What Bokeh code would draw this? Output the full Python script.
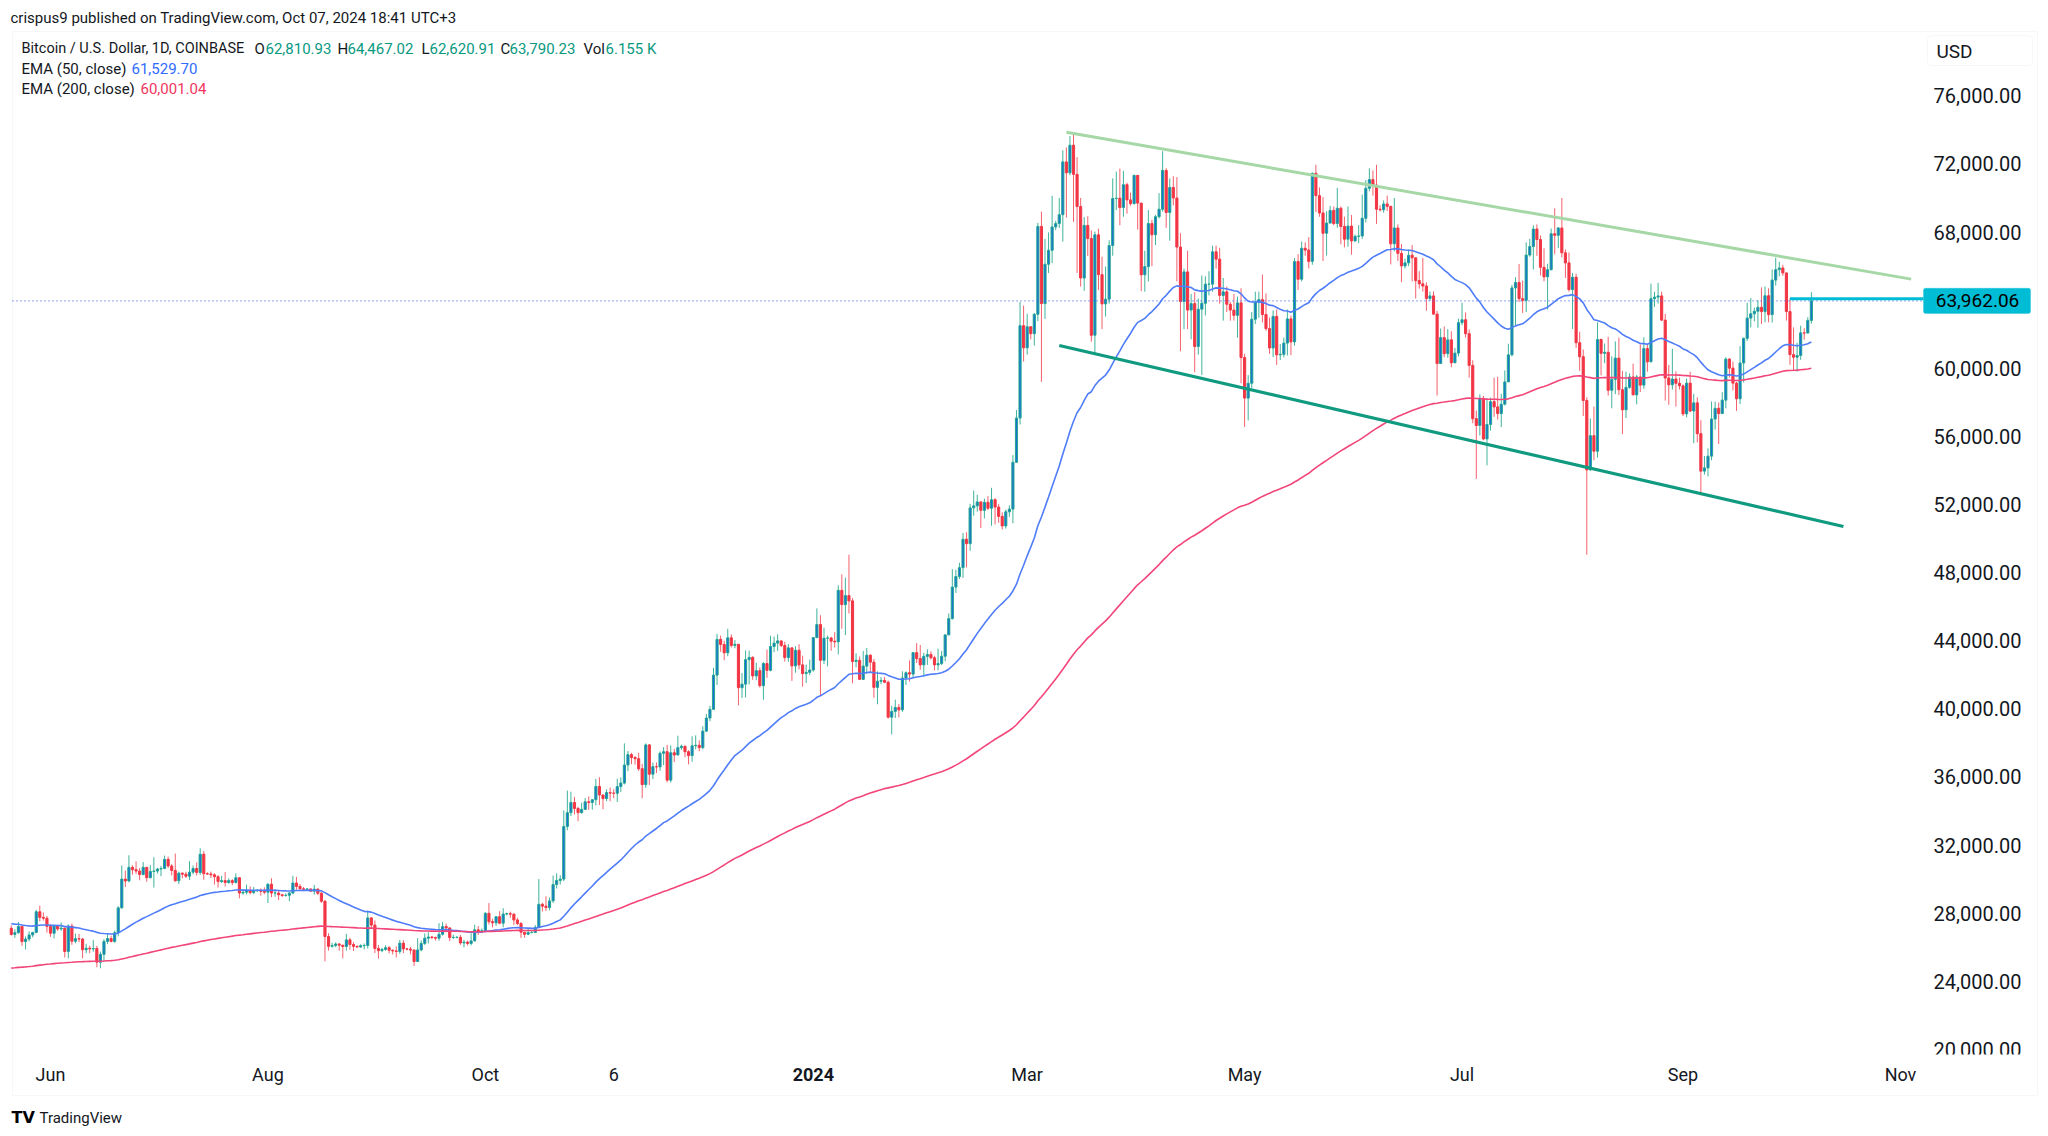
import numpy as np
import pandas as pd
from bokeh.plotting import figure
from bokeh.models import (ColumnDataSource, FixedTicker, NumeralTickFormatter, Label,
                          BoxAnnotation, Range1d)
from bokeh.embed import file_html
from bokeh.resources import INLINE

# ---------------- data (thousands of USD): (close, high, low) per day ----------------
start_date = "2023-05-21"
first_open = 27.11
m2023_05 = [(26.75,27.27,26.68),(26.85,27.05,26.55),(27.22,27.48,26.80),(26.33,27.22,26.08),(26.48,26.63,25.87),(26.72,26.93,26.34),(26.87,26.90,26.58),(28.08,28.19,26.82),(27.75,28.44,27.52),(27.70,28.04,27.56),(27.22,27.83,26.86)]
m2023_06 = [(26.82,27.35,26.61),(27.25,27.30,26.52),(27.07,27.32,26.96),(27.12,27.45,26.97),(25.75,27.13,25.40),(27.24,27.34,25.35),(26.35,27.39,26.14),(26.50,26.80,26.23),(26.48,26.78,26.29),(25.85,26.53,25.35),
            (25.94,26.20,25.64),(25.90,26.08,25.65),(25.92,26.43,25.73),(25.12,26.08,24.82),(25.58,25.74,24.76),(26.34,26.47,25.17),(26.51,26.77,26.18),(26.34,26.68,26.28),(26.85,26.98,26.26),(28.31,28.40,26.64),
            (30.00,30.80,28.27),(29.89,30.50,29.54),(30.69,31.40,29.81),(30.55,30.81,30.26),(30.47,31.04,30.30),(30.27,30.65,29.93),(30.69,31.00,30.22),(30.08,30.70,29.85),(30.45,30.82,30.05),(30.47,31.28,29.50)]
m2023_07 = [(30.59,30.66,30.32),(30.62,30.78,30.17),(31.16,31.38,30.58),(30.77,31.32,30.64),(30.51,30.88,30.21),(29.90,31.50,29.85),(30.35,30.44,29.71),(30.29,30.38,30.05),(30.17,30.43,30.07),(30.41,31.05,29.95),
            (30.62,30.80,30.28),(30.39,30.98,30.21),(31.46,31.81,30.25),(30.32,31.64,29.96),(30.30,30.40,30.25),(30.25,30.44,30.07),(30.14,30.34,29.68),(29.86,30.23,29.50),(29.91,30.19,29.77),(29.80,30.42,29.57),
            (29.91,30.05,29.72),(29.80,29.99,29.64),(30.08,30.34,29.74),(29.18,30.10,28.87),(29.23,29.38,29.08),(29.35,29.68,29.10),(29.21,29.57,29.10),(29.31,29.53,29.12),(29.35,29.40,29.26),(29.28,29.45,29.03),
            (29.23,29.52,29.11)]
m2023_08 = [(29.70,29.75,28.59),(29.18,30.05,28.94),(29.18,29.41,28.96),(29.08,29.31,28.77),(29.04,29.11,28.95),(29.05,29.16,28.97),(29.18,29.24,28.70),(29.77,30.19,29.13),(29.57,30.13,29.37),(29.43,29.71,29.33),
            (29.40,29.54,29.29),(29.42,29.47,29.35),(29.29,29.45,29.26),(29.41,29.66,29.09),(29.17,29.46,29.06),(28.70,29.23,28.60),(26.63,28.77,25.17),(26.05,26.82,25.80),(26.10,26.26,25.98),(26.19,26.28,26.00),
            (26.12,26.24,25.80),(26.04,26.13,25.35),(26.43,26.79,25.80),(26.16,26.55,25.85),(26.05,26.30,25.78),(26.01,26.10,25.97),(26.09,26.17,25.96),(26.10,26.22,25.87),(27.72,28.14,25.92),(27.30,27.76,27.06),
            (25.93,27.57,25.66)]
m2023_09 = [(25.80,26.13,25.33),(25.87,25.97,25.71),(25.97,26.11,25.79),(25.82,26.06,25.64),(25.78,25.87,25.57),(25.75,26.05,25.40),(26.24,26.43,25.61),(25.90,26.41,25.65),(25.89,25.94,25.81),(25.83,26.02,25.58),
            (25.16,25.89,24.90),(25.84,26.53,25.13),(26.22,26.40,25.76),(26.53,26.81,26.13),(26.60,26.88,26.22),(26.57,26.66,26.47),(26.53,26.62,26.39),(26.76,27.41,26.38),(27.21,27.49,26.68),(27.13,27.39,26.88),
            (26.57,27.16,26.36),(26.58,26.73,26.48),(26.58,26.64,26.52),(26.25,26.72,26.14),(26.30,26.43,25.99),(26.22,26.39,26.09),(26.37,26.82,26.11),(27.02,27.32,26.34),(26.91,27.24,26.72),(26.97,27.10,26.88)]
m2023_10 = [(27.99,28.06,26.95),(27.50,28.59,27.33),(27.43,27.67,27.16),(27.79,27.83,27.25),(27.41,28.12,27.35),(27.95,28.29,27.17),(27.97,28.03,27.86),(27.94,28.09,27.73),(27.60,27.99,27.30),(27.39,27.73,27.30),
            (26.88,27.48,26.55),(26.76,26.82,26.56),(26.86,27.11,26.70),(26.86,26.97,26.81),(27.16,27.30,26.84),(28.52,30.00,27.12),(28.41,28.61,28.10),(28.33,28.99,28.13),(28.72,28.92,28.17),(29.68,30.21,28.60),
            (29.92,30.34,29.45),(30.00,30.23,29.68),(33.09,34.03,29.88),(33.90,35.20,32.87),(34.50,35.13,33.70),(34.15,34.83,33.80),(33.90,34.25,33.40),(34.09,34.48,33.85),(34.54,34.76,34.06),(34.50,34.86,34.07),
            (34.66,34.70,34.08)]
m2023_11 = [(35.44,35.88,34.32),(34.94,35.98,34.35),(34.73,34.95,34.10),(35.08,35.27,34.58),(35.05,35.38,34.57),(35.04,35.28,34.75),(35.43,35.90,34.53),(35.64,35.97,35.12),(36.70,37.97,35.56),(37.31,37.52,36.34),
            (37.14,37.41,36.75),(37.07,37.23,36.72),(36.48,37.42,36.36),(35.55,36.77,34.75),(37.88,37.97,35.36),(36.16,37.93,35.53),(36.60,36.85,35.88),(36.59,36.85,36.23),(37.39,37.50,36.36),(37.48,37.75,36.70),
            (35.81,37.88,35.68),(37.42,37.85,35.67),(37.29,37.65,36.87),(37.72,38.42,37.26),(37.80,37.90,37.59),(37.48,37.84,37.16),(37.25,37.57,36.74),(37.83,38.39,36.89),(37.86,38.44,37.62),(37.72,38.15,37.51)]
m2023_12 = [(38.69,38.98,37.62),(39.46,39.70,38.64),(39.97,40.18,39.27),(41.98,42.41,39.96),(44.08,44.40,41.40),(43.78,44.30,43.35),(43.29,44.00,42.85),(44.17,44.70,43.09),(43.72,44.37,43.60),(43.79,44.04,43.56),
            (41.24,43.79,40.20),(41.45,42.10,40.64),(42.89,43.43,40.67),(43.02,43.42,41.43),(41.93,43.09,41.70),(42.24,42.71,41.68),(41.36,42.43,41.25),(42.66,42.75,40.53),(42.26,43.48,41.82),(43.66,44.29,42.20),
            (43.86,44.24,43.32),(43.99,44.38,43.40),(43.72,43.99,43.62),(43.01,43.94,42.77),(43.58,43.80,42.76),(42.52,43.62,41.64),(43.44,43.68,42.12),(42.58,43.80,42.32),(42.07,43.12,41.30),(42.14,42.60,41.52),
            (42.28,42.89,41.98)]
m2024_01 = [(44.18,44.20,42.19),(44.95,45.90,44.18),(42.85,45.50,40.75),(44.15,44.77,42.63),(44.16,44.30,42.50),(43.97,44.23,43.41),(43.93,44.50,43.60),(46.96,47.25,43.20),(46.12,47.90,44.70),(46.65,47.70,44.33),
            (46.34,49.05,45.60),(42.78,46.50,41.50),(42.85,43.26,42.44),(41.73,43.08,41.72),(42.51,43.40,41.72),(43.15,43.57,42.05),(42.74,43.20,42.19),(41.26,42.93,40.65),(41.62,42.20,40.27),(41.67,41.86,41.44),
            (41.56,41.87,41.50),(39.51,41.66,39.43),(39.85,40.18,38.50),(40.08,40.54,39.46),(39.94,40.29,39.50),(41.81,42.20,39.82),(42.12,42.20,41.40),(42.04,42.84,41.60),(43.30,43.31,41.80),(42.95,43.86,42.69),
            (42.58,43.75,42.29)]
m2024_02 = [(43.08,43.29,41.88),(43.19,43.49,42.58),(43.00,43.38,42.89),(42.58,43.12,42.26),(42.66,43.53,42.26),(43.09,43.40,42.57),(44.34,44.39,42.79),(45.30,45.60,44.33),(47.15,48.20,45.24),(47.77,48.17,46.80),
            (48.29,48.58,47.63),(49.96,50.33,47.70),(49.70,50.37,48.30),(51.80,52.04,49.28),(51.92,52.82,51.34),(52.15,52.57,51.58),(51.66,52.19,50.62),(52.13,52.35,51.18),(51.78,52.49,51.68),(52.28,52.98,50.75),
            (51.85,52.37,50.83),(51.30,52.03,50.92),(50.74,51.54,50.53),(51.57,51.70,50.59),(51.73,51.95,51.28),(54.48,54.90,50.90),(57.08,57.55,54.45),(62.50,63.90,56.70),(61.20,63.68,60.40)]
m2024_03 = [(62.44,63.20,60.80),(62.03,62.45,61.70),(63.17,63.25,61.33),(68.33,68.54,62.77),(63.80,69.20,59.20),(66.11,67.60,62.90),(66.93,67.98,65.60),(68.30,70.13,66.18),(68.50,68.66,68.11),(69.02,70.00,68.24),
            (72.12,72.80,67.44),(71.48,72.97,68.85),(73.10,73.64,71.34),(71.39,73.78,68.60),(69.50,72.40,65.60),(65.30,70.00,64.80),(68.39,68.88,64.55),(67.62,68.93,66.60),(61.94,68.10,61.56),(67.84,68.03,60.80),
            (65.50,68.20,64.60),(63.78,66.55,62.30),(64.06,65.97,63.04),(67.21,67.52,63.80),(69.97,71.15,66.61),(69.99,71.55,69.29),(69.44,71.73,68.40),(70.78,71.60,68.90),(69.89,70.90,69.08),(69.67,70.32,69.55),
            (71.33,71.37,69.62)]
m2024_04 = [(69.70,71.35,68.15),(65.49,69.70,64.53),(65.97,66.90,64.50),(68.50,69.29,65.10),(67.84,68.72,66.00),(68.90,69.00,67.24),(69.34,70.28,68.80),(71.62,72.75,69.20),(69.15,71.75,68.25),(70.62,71.15,67.50),
            (70.00,71.28,69.57),(67.12,71.23,65.10),(63.92,67.93,61.00),(65.66,65.85,62.30),(63.42,66.90,62.30),(63.80,64.36,61.70),(61.28,64.47,59.77),(63.47,64.10,60.80),(63.82,65.45,59.60),(64.94,65.40,63.10),
            (64.94,65.70,64.28),(66.84,67.20,64.50),(66.41,67.20,65.85),(64.28,67.08,63.80),(64.49,65.30,62.80),(63.76,64.79,63.30),(63.42,63.90,62.80),(63.11,64.36,62.80),(63.84,64.21,61.80),(60.63,64.70,59.12)]
m2024_05 = [(58.25,60.85,56.55),(59.12,59.60,56.94),(62.88,63.30,58.84),(63.89,64.50,62.60),(64.03,64.50,62.97),(63.16,65.50,62.70),(62.33,64.40,62.20),(61.19,62.98,60.85),(63.05,63.40,60.66),(60.79,63.45,60.20),
            (60.82,61.42,60.48),(61.48,61.80,60.64),(62.90,63.45,60.75),(61.55,63.10,60.77),(66.27,66.47,61.33),(65.23,66.70,64.60),(67.05,67.44,65.10),(66.94,67.40,66.61),(66.28,67.70,65.86),(71.45,71.50,66.08),
            (70.14,71.95,69.18),(69.12,70.62,68.90),(67.93,70.05,66.30),(68.53,69.22,66.62),(69.27,69.54,68.50),(68.50,69.50,68.40),(69.40,70.60,68.25),(68.33,69.50,67.28),(67.58,68.90,67.10),(68.35,69.50,67.14),
            (67.48,69.00,66.67)]
m2024_06 = [(67.75,67.86,67.41),(67.77,68.40,67.35),(68.81,70.20,67.60),(70.57,71.05,68.56),(71.08,71.75,70.39),(70.76,71.62,70.14),(69.34,71.95,68.48),(69.31,69.57,69.21),(69.65,69.86,69.14),(69.51,70.14,69.24),
            (67.31,69.55,66.10),(68.24,70.00,66.88),(66.75,68.45,66.30),(66.01,67.30,65.06),(66.19,66.44,65.86),(66.64,66.97,66.00),(66.49,67.24,65.10),(65.15,66.50,64.10),(64.96,65.70,64.68),(64.83,66.48,64.50),
            (64.10,65.05,63.38),(64.25,64.50,63.95),(63.18,64.52,63.16),(60.28,63.37,58.40),(61.80,62.34,60.28),(60.86,62.45,60.65),(61.67,62.30,60.62),(60.32,62.17,60.06),(60.89,61.20,60.32),(62.68,62.92,60.70)]
m2024_07 = [(62.85,63.85,62.53),(62.03,63.28,61.80),(60.17,62.28,59.45),(57.04,60.47,56.77),(56.64,57.52,53.50),(58.23,58.47,56.05),(55.85,58.38,55.77),(56.70,58.24,54.30),(58.04,58.28,56.34),(57.73,59.45,57.15),
            (57.34,59.50,56.99),(57.89,58.50,56.55),(59.20,59.87,57.82),(60.79,61.44,59.25),(64.72,64.90,60.70),(65.04,65.35,62.47),(64.09,66.13,63.89),(63.99,65.15,63.25),(66.65,67.40,63.30),(67.15,67.60,66.55),
            (68.18,68.40,65.80),(67.56,68.45,66.60),(65.93,67.80,65.45),(65.37,67.05,65.10),(65.79,66.14,63.45),(67.90,68.21,65.75),(67.81,69.40,66.70),(68.24,68.30,67.06),(66.78,70.00,66.52),(66.19,66.98,65.30),
            (64.62,66.80,64.50)]
m2024_08 = [(65.35,65.60,62.30),(61.50,65.55,61.20),(60.68,62.15,59.85),(58.11,61.10,57.20),(54.03,58.30,49.05),(56.04,57.05,54.00),(55.13,57.75,54.60),(61.69,62.70,54.75),(60.88,61.75,59.58),(60.94,61.45,60.30),
            (58.71,61.85,58.40),(59.35,60.70,57.65),(60.60,61.58,58.48),(58.74,61.80,58.43),(57.56,59.85,56.14),(58.88,59.80,57.08),(59.49,59.70,58.80),(58.44,60.27,58.42),(59.49,59.60,57.88),(59.01,61.40,58.60),
            (61.16,61.82,58.80),(60.38,61.40,59.80),(64.09,64.97,60.35),(64.18,64.50,63.60),(64.25,65.02,63.80),(62.83,64.50,62.78),(59.43,63.20,58.10),(59.03,60.20,57.85),(59.37,61.15,58.75),(59.12,59.82,57.75),
            (58.97,59.45,58.75)]
m2024_09 = [(57.32,59.05,57.20),(59.13,59.40,57.12),(57.49,59.80,57.42),(57.97,58.50,55.60),(56.16,58.30,55.65),(53.96,56.95,52.55),(54.15,54.85,53.75),(54.84,55.30,53.65),(57.02,58.05,54.60),(57.65,58.04,56.40),
            (57.34,57.99,55.55),(58.13,58.60,57.33),(60.54,60.65,57.65),(60.01,60.60,59.45),(59.13,60.39,58.70),(58.21,59.20,57.50),(60.31,61.30,57.90),(61.76,61.80,59.17),(62.95,63.85,61.60),(63.20,64.13,62.40),
            (63.35,63.56,62.75),(63.58,64.00,62.38),(63.33,64.75,62.60),(64.26,64.80,62.70),(63.15,64.70,62.70),(65.18,65.80,62.68),(65.79,66.50,64.85),(65.89,66.25,65.40),(65.60,66.08,65.43),(63.33,65.60,62.80)]
m2024_10 = [(60.80,64.13,60.20),(60.65,62.40,59.85),(60.75,61.50,59.80),(62.08,62.50,60.50),(62.07,62.35,61.68),(62.81,63.00,62.05),(63.96,64.47,62.62)]

ema50_seed = 27.40      # EMA values read at the left edge (thousands)
ema200_seed = 24.75
last_price = 63962.06
ray_date, ray_price = "2024-10-01", 64080
upper_trend_dates = ["2024-03-12", "2024-11-04"]
upper_trend_prices = [73860, 65235]
lower_trend_dates = ["2024-03-10", "2024-10-16"]
lower_trend_prices = [61335, 50705]

y_ticks = list(range(20000, 76001, 4000))
x_tick_dates = ["2023-06-01", "2023-08-01", "2023-10-01", "2023-11-06", "2024-01-01",
                "2024-03-01", "2024-05-01", "2024-07-01", "2024-09-01", "2024-11-01"]
x_tick_labels = ["Jun", "Aug", "Oct", "6", "2024", "Mar", "May", "Jul", "Sep", "Nov"]

# ---------------- build columns ----------------
months = [m2023_05, m2023_06, m2023_07, m2023_08, m2023_09, m2023_10, m2023_11, m2023_12,
          m2024_01, m2024_02, m2024_03, m2024_04, m2024_05, m2024_06, m2024_07, m2024_08,
          m2024_09, m2024_10]
rows = [r for m in months for r in m]
close = np.array([r[0] for r in rows]) * 1000
high = np.array([r[1] for r in rows]) * 1000
low = np.array([r[2] for r in rows]) * 1000
open_ = np.concatenate([[first_open * 1000], close[:-1]])
close[-1] = last_price
high = np.maximum(high, np.maximum(open_, close))
low = np.minimum(low, np.minimum(open_, close))

ref = pd.Timestamp("2023-06-01")
def day(d):
    return (pd.Timestamp(d) - ref).days

dates = pd.date_range(start_date, periods=len(rows), freq="D")
x = np.array((dates - ref).days, dtype=float)

def ema(vals, n, seed):
    a = 2.0 / (n + 1)
    e = seed
    out = []
    for v in vals:
        e = e + a * (v - e)
        out.append(e)
    return np.array(out)

ema50 = ema(close, 50, ema50_seed * 1000)
ema200 = ema(close, 200, ema200_seed * 1000)

up = close >= open_
UP_BODY, UP_LINE, UP_WICK = "#1a6fd8", "#22a88e", "#3fb39c"
DN_BODY, DN_WICK = "#f23645", "#f4606c"

src = ColumnDataSource(dict(
    x=x, high=high, low=low,
    top=np.maximum(open_, close), bottom=np.minimum(open_, close),
    fill=[UP_BODY if u else DN_BODY for u in up],
    line=[UP_LINE if u else DN_BODY for u in up],
    wick=[UP_WICK if u else DN_WICK for u in up],
))

# ---------------- layout geometry (page pixels) ----------------
W, H = 2044, 1132
X0, PXD = 50.0, 3.5645          # page x of 2023-06-01, pixels per day
Y76, PXU = 95.35, 0.017027      # page y of 76,000, pixels per USD
PANE_L, PANE_R, PANE_T, PANE_B = 12, 1925, 32, 1055

def pday(px):
    return (px - X0) / PXD

def pprice(py):
    return 76000 - (py - Y76) / PXU

p = figure(width=W, height=H, output_backend="svg", toolbar_location=None,
           x_range=Range1d(pday(0), pday(W)), y_range=Range1d(pprice(H), pprice(0)),
           y_axis_location="right", min_border=0, min_border_left=0, min_border_right=0,
           min_border_top=0, min_border_bottom=0)
p.xgrid.visible = False
p.ygrid.visible = False
p.outline_line_color = None
p.background_fill_color = "white"
p.border_fill_color = "white"

FONT = "Roboto"
TXT = "#131722"

# outer chart border
p.add_layout(BoxAnnotation(left=12, right=2037, bottom=H - 1095, top=H - 31,
                           left_units="screen", right_units="screen", top_units="screen",
                           bottom_units="screen", fill_alpha=0, line_color="#e0e3eb",
                           line_width=1, level="underlay"))

ya = p.yaxis[0]
ya.fixed_location = pday(PANE_R)
ya.ticker = FixedTicker(ticks=y_ticks)
ya.formatter = NumeralTickFormatter(format="0,0.00")
ya.axis_line_color = None
ya.major_tick_line_color = None
ya.minor_tick_line_color = None
ya.major_label_text_font = FONT
ya.major_label_text_font_size = "20px"
ya.major_label_text_color = TXT
ya.major_label_standoff = 2

xt = [day(d) for d in x_tick_dates]
xa = p.xaxis[0]
xa.fixed_location = pprice(PANE_B)
xa.ticker = FixedTicker(ticks=xt)
xa.major_label_overrides = {t: ("" if lab == "2024" else lab) for t, lab in zip(xt, x_tick_labels)}
xa.axis_line_color = None
xa.major_tick_line_color = None
xa.minor_tick_line_color = None
xa.major_label_text_font = FONT
xa.major_label_text_font_size = "18px"
xa.major_label_text_color = TXT
xa.major_label_standoff = 2

# candles
p.segment(x0="x", y0="high", x1="x", y1="low", line_color="wick", line_width=1, source=src)
p.vbar(x="x", width=0.6, top="top", bottom="bottom", fill_color="fill", line_color="line",
       line_width=1, source=src)

# EMAs
p.line(x, ema50, line_color="#4f7df9", line_width=1.6)
p.line(x, ema200, line_color="#f2467a", line_width=1.6)

# trend lines
p.line([day(d) for d in upper_trend_dates], upper_trend_prices, line_color="#a5d8a6", line_width=3)
p.line([day(d) for d in lower_trend_dates], lower_trend_prices, line_color="#109a7f", line_width=3.2)

# last-price dotted line and cyan horizontal ray
p.segment(x0=[pday(PANE_L)], y0=[last_price], x1=[pday(PANE_R)], y1=[last_price],
          line_color="#4a6cf7", line_dash="1 3", line_width=1.2)
p.segment(x0=[day(ray_date)], y0=[ray_price], x1=[pday(1923)], y1=[ray_price],
          line_color="#00bcd4", line_width=3)

# ---------------- texts ----------------
def lab(px, py, text, color=TXT, size="15px", bold=False, align="left", font=FONT,
        baseline="middle"):
    p.add_layout(Label(x=px, y=H - py, x_units="screen", y_units="screen", text=text,
                       text_color=color, text_font_size=size, text_font=font,
                       text_baseline=baseline, text_align=align,
                       text_font_style="bold" if bold else "normal"))

lab(10, 17, "crispus9 published on TradingView.com, Oct 07, 2024 18:41 UTC+3", size="15px")
GREEN = "#089981"
LS = "15px"
lab(21, 48, "Bitcoin / U.S. Dollar, 1D, COINBASE", size="14.5px")
lab(254, 48, "O", size=LS); lab(265, 48, "62,810.93", GREEN, size=LS)
lab(337, 48, "H", size=LS); lab(347, 48, "64,467.02", GREEN, size=LS)
lab(421, 48, "L", size=LS); lab(429, 48, "62,620.91", GREEN, size=LS)
lab(500, 48, "C", size=LS); lab(509, 48, "63,790.23", GREEN, size=LS)
lab(583, 48, "Vol", size=LS); lab(605, 48, "6.155 K", GREEN, size=LS)
lab(21, 68, "EMA (50, close)", size=LS); lab(131, 68, "61,529.70", "#2f6bff", size=LS)
lab(21, 88, "EMA (200, close)", size=LS); lab(140, 88, "60,001.04", "#f23660", size=LS)

# bold 2024 tick label
p.add_layout(Label(x=day("2024-01-01"), y=H - 1074, x_units="data", y_units="screen",
                   text="2024", text_color=TXT, text_font_size="18px", text_font=FONT,
                   text_font_style="bold", text_align="center", text_baseline="middle"))

# cover lower part of 20,000 label (clipped by the pane in the original)
p.add_layout(BoxAnnotation(left=PANE_R + 1, right=2036, bottom=H - 1093, top=H - 1054,
                           left_units="screen", right_units="screen", top_units="screen",
                           bottom_units="screen", fill_color="white", fill_alpha=1,
                           line_alpha=0))

# USD box
p.add_layout(BoxAnnotation(left=1927, right=2032, bottom=H - 65, top=H - 35,
                           left_units="screen", right_units="screen", top_units="screen",
                           bottom_units="screen", fill_color="white", fill_alpha=1,
                           line_color="#e0e3eb", line_width=1, border_radius=4))
lab(1936, 51, "USD", size="19px")

# last-price label
p.add_layout(BoxAnnotation(left=1923, right=2030, bottom=last_price - 740,
                           top=last_price + 740, left_units="screen", right_units="screen",
                           fill_color="#00bcd4", fill_alpha=1, line_color="#00bcd4",
                           border_radius=2))
p.add_layout(Label(x=1977, y=last_price, x_units="screen", y_units="data",
                   text="63,962.06", text_color="#000000", text_font_size="19px",
                   text_font=FONT, text_align="center", text_baseline="middle"))

# footer
lab(11, 1117, "TV", color="#000000", size="16px", bold=True, font="DejaVu Sans")
lab(39, 1117, "TradingView", color=TXT, size="15px")

open("out.html", "w").write(file_html(p, INLINE))
